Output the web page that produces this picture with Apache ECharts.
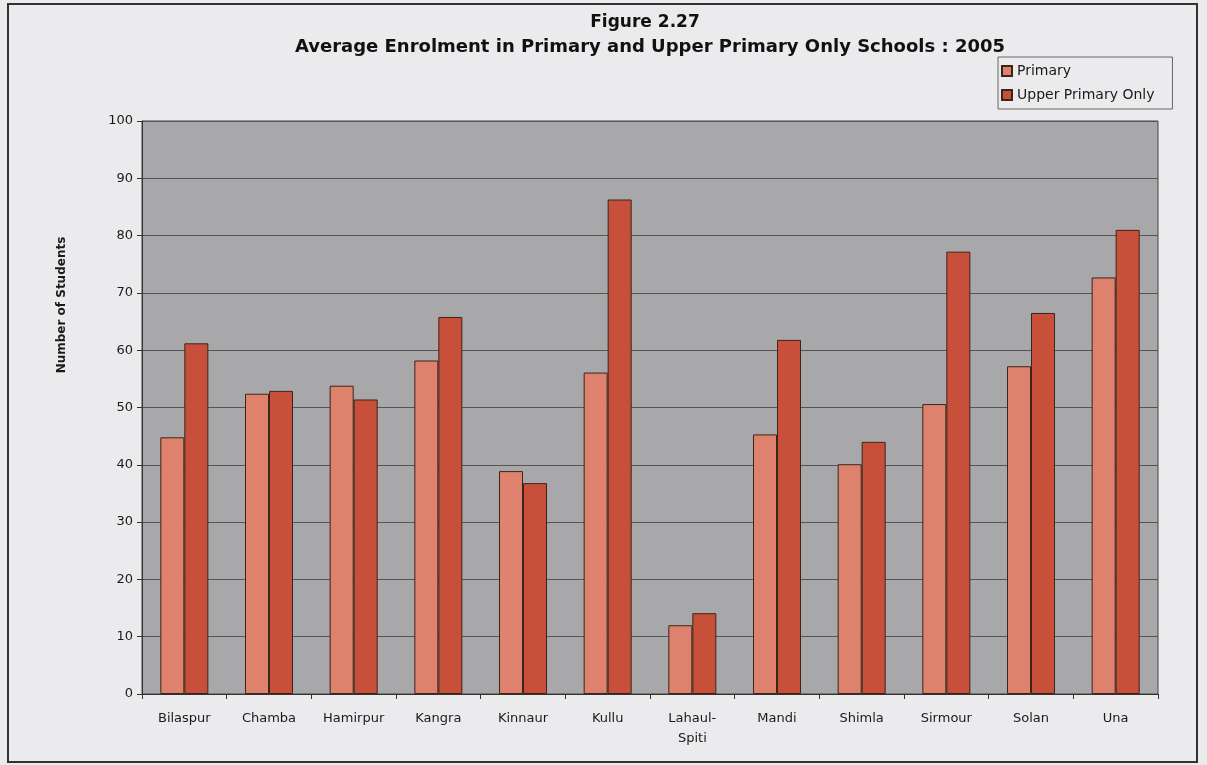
<!DOCTYPE html>
<html>
<head>
<meta charset="utf-8">
<script src="https://cdn.jsdelivr.net/npm/echarts@6/dist/echarts.min.js"></script>
<style>
html,body{margin:0;padding:0;background:#ebebed;}
#c{width:1207px;height:765px;}
</style>
</head>
<body>
<div id="c"></div>
<script>
var categories = ['Bilaspur','Chamba','Hamirpur','Kangra','Kinnaur','Kullu','Lahaul-\nSpiti','Mandi','Shimla','Sirmour','Solan','Una'];
var primary = [44.8, 52.4, 53.8, 58.2, 38.9, 56.1, 12.0, 45.3, 40.1, 50.6, 57.2, 72.7];
var upperPrimaryOnly = [61.2, 52.9, 51.4, 65.8, 36.8, 86.3, 14.1, 61.8, 44.0, 77.2, 66.5, 81.0];
var yTicks = {min: 0, max: 100, interval: 10};

var FONT = 'DejaVu Sans';
var chart = echarts.init(document.getElementById('c'), null, {renderer: 'canvas'});
chart.setOption({
  backgroundColor: '#ebebed',
  animation: false,
  textStyle: {fontFamily: FONT, color: '#1a1a1a'},
  title: [
    {text: 'Figure 2.27', left: 640, top: 9, textAlign: 'center',
     textStyle: {fontFamily: FONT, fontSize: 17, fontWeight: 'bold', color: '#111'}},
    {text: 'Average Enrolment in Primary and Upper Primary Only Schools : 2005', left: 645, top: 33, textAlign: 'center',
     textStyle: {fontFamily: FONT, fontSize: 18, fontWeight: 'bold', color: '#111'}}
  ],
  legend: {
    orient: 'vertical', left: 998, top: 57, z: 10,
    padding: [6, 18, 6, 3], itemGap: 8,
    itemWidth: 10, itemHeight: 10,
    backgroundColor: '#ebebed', borderColor: '#666', borderWidth: 1,
    textStyle: {fontFamily: FONT, fontSize: 14, lineHeight: 16, color: '#1a1a1a'},
    data: [{name: 'Primary', icon: 'rect'}, {name: 'Upper Primary Only', icon: 'rect'}]
  },
  grid: {left: 142, right: 49, top: 121, bottom: 71, show: true,
         backgroundColor: '#a8a8aa', borderColor: '#444', borderWidth: 1},
  xAxis: {
    type: 'category', data: categories,
    axisLine: {lineStyle: {color: '#333', width: 1}},
    axisTick: {show: true, length: 5, lineStyle: {color: '#333'}},
    axisLabel: {fontFamily: FONT, fontSize: 13, color: '#1a1a1a', margin: 15, lineHeight: 20, interval: 0}
  },
  yAxis: {
    type: 'value', min: yTicks.min, max: yTicks.max, interval: yTicks.interval,
    axisLine: {show: true, lineStyle: {color: '#333', width: 1}},
    axisTick: {show: true, length: 5, lineStyle: {color: '#333'}},
    axisLabel: {fontFamily: FONT, fontSize: 13, color: '#1a1a1a', margin: 9},
    splitLine: {show: true, lineStyle: {color: '#555', width: 1}}
  },
  graphic: [
    {type: 'rect', shape: {x: 8, y: 4, width: 1189, height: 758}, silent: true,
     style: {fill: 'none', stroke: '#333', lineWidth: 2}, z: 100},
    {type: 'text', x: 62, y: 305, rotation: Math.PI / 2, silent: true,
     style: {text: 'Number of Students', font: 'bold 12px "DejaVu Sans"', fill: '#1a1a1a',
             textAlign: 'center', textVerticalAlign: 'middle'}}
  ],
  series: [
    {name: 'Primary', type: 'bar', data: primary, barWidth: 24, barGap: '0%',
     itemStyle: {color: '#de826e', borderColor: '#3b2418', borderWidth: 1}},
    {name: 'Upper Primary Only', type: 'bar', data: upperPrimaryOnly, barWidth: 24, barGap: '0%',
     itemStyle: {color: '#c8503a', borderColor: '#3b2418', borderWidth: 1}}
  ]
});
</script>
</body>
</html>
